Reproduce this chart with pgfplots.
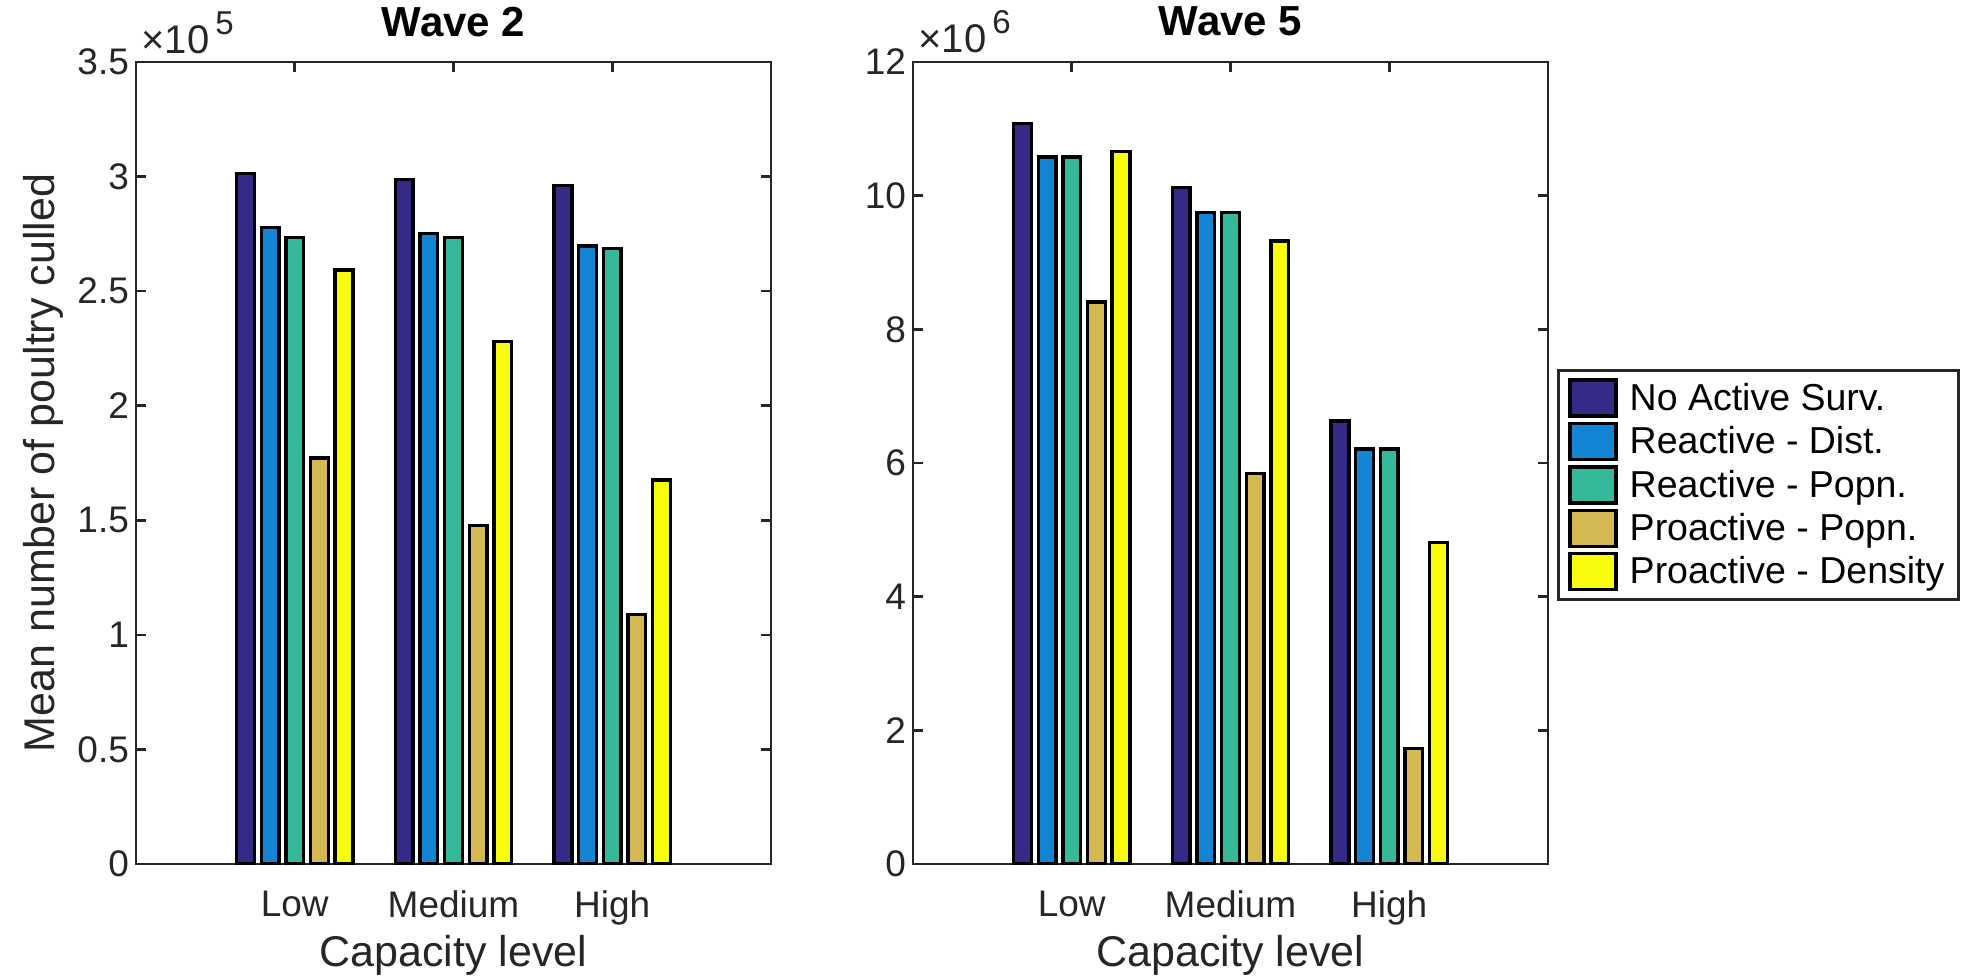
\documentclass[border=0pt]{standalone}
\usepackage{fontspec}
\setmainfont{Liberation Sans}
\usepackage{pgfplots}
\pgfplotsset{compat=1.18}

\definecolor{axgray}{RGB}{38,38,38}
\definecolor{c1}{RGB}{53,42,135}
\definecolor{c2}{RGB}{20,132,212}
\definecolor{c3}{RGB}{54,184,154}
\definecolor{c4}{RGB}{212,185,82}
\definecolor{c5}{RGB}{249,251,14}

\pgfplotsset{
  culled/.style={
    scale only axis, width=317.5pt, height=401pt,
    xmin=0, xmax=4, ymin=0,
    xtick={1,2,3}, xticklabels={Low,Medium,High},
    tick align=inside, major tick length=5pt,
    axis line style={axgray, line width=1.3pt},
    every tick/.style={axgray, line width=1.3pt},
    tick label style={font=\fontsize{18.5}{22}\selectfont, text=axgray},
    xticklabel style={yshift=-10pt},
    /pgf/number format/assume math mode=true,
    xlabel={Capacity level},
    xlabel style={yshift=2pt},
    label style={font=\fontsize{21.5}{26}\selectfont, text=axgray},
    title style={font=\bfseries\fontsize{21}{24}\selectfont, at={(0.5,1)}, anchor=base, yshift=7pt},
    every y tick scale label/.style={at={(rel axis cs:0,1)}, anchor=base west, inner sep=0pt,
      xshift=2.5pt, yshift=4.5pt, text=axgray},
    ytick scale label code/.code={{\fontsize{20}{22}\selectfont ×10\hspace{3pt}\raisebox{9.5pt}{\fontsize{16.5}{18}\selectfont ##1}}},
  },
  sbar/.style={ybar, bar width=0.112, bar shift=#1, draw=black, line width=1.7pt,
    legend image code/.code={\draw[##1, line width=1.7pt] (0pt,-9pt) rectangle (23pt,9pt);}},
}

\begin{document}
\begin{tikzpicture}
\useasboundingbox (0,0) rectangle (987.5pt,488pt);

\begin{axis}[culled, at={(68pt,56pt)}, anchor=south west,
  ymax=350000, ytick={0,50000,...,350000}, scaled y ticks=base 10:-5,
  title={Wave 2}, ylabel={Mean number of poultry culled}]
\addplot[sbar=-0.31, fill=c1] coordinates {(1,301400) (2,298800) (3,296100)};
\addplot[sbar=-0.155, fill=c2] coordinates {(1,277800) (2,275200) (3,269700)};
\addplot[sbar=0, fill=c3] coordinates {(1,273500) (2,273500) (3,268600)};
\addplot[sbar=0.155, fill=c4] coordinates {(1,177200) (2,147600) (3,108800)};
\addplot[sbar=0.31, fill=c5] coordinates {(1,259300) (2,228100) (3,167600)};
\end{axis}

\begin{axis}[culled, at={(456.5pt,56pt)}, anchor=south west,
  ymax=12000000, ytick={0,2000000,...,12000000}, scaled y ticks=base 10:-6,
  title={Wave 5},
  legend style={at={(1.0142,0.617)}, anchor=north west, draw=axgray, line width=1.3pt,
    font=\fontsize{18.75}{22}\selectfont, row sep=2pt, column sep=4pt,
    inner xsep=5pt, inner ysep=4pt},
  legend cell align=left]
\addplot[sbar=-0.31, fill=c1] coordinates {(1,11080000) (2,10120000) (3,6630000)};
\addplot[sbar=-0.155, fill=c2] coordinates {(1,10580000) (2,9750000) (3,6210000)};
\addplot[sbar=0, fill=c3] coordinates {(1,10580000) (2,9750000) (3,6210000)};
\addplot[sbar=0.155, fill=c4] coordinates {(1,8410000) (2,5840000) (3,1725000)};
\addplot[sbar=0.31, fill=c5] coordinates {(1,10660000) (2,9320000) (3,4815000)};
\legend{No Active Surv., Reactive - Dist., Reactive - Popn., Proactive - Popn., Proactive - Density}
\end{axis}
\end{tikzpicture}
\end{document}
